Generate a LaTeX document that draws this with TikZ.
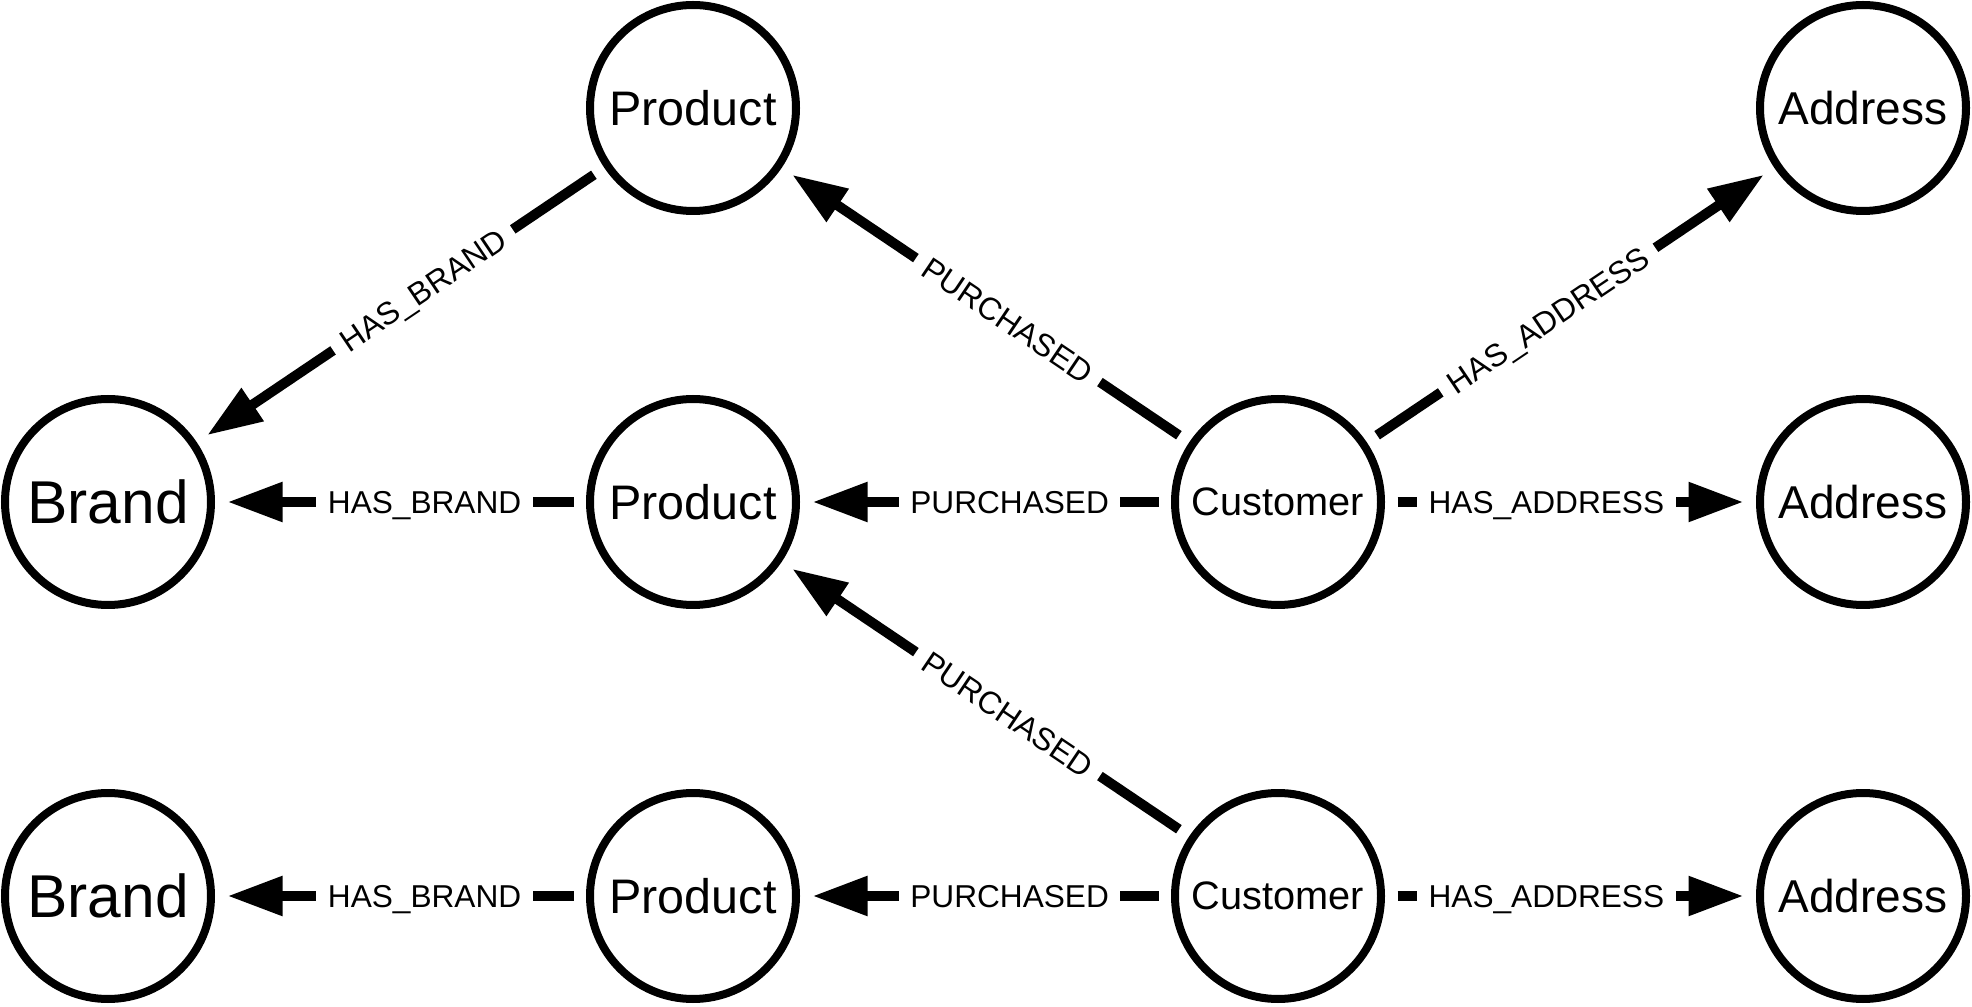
\documentclass[tikz,border=0pt]{standalone}
\usepackage{fontspec}
\setmainfont{Liberation Sans}
\usetikzlibrary{arrows.meta}
\begin{document}
\begin{tikzpicture}[x=0.1mm,y=-0.1mm,
  ent/.style={circle, draw=black, line width=0.8mm, minimum size=20.6mm, inner sep=0pt, fill=white},
  rel/.style={line width=1mm, -{Triangle[length=5.5mm,width=3.75mm]}, shorten >=1.25mm, shorten <=1.25mm},
  lbl/.style={fill=white, inner xsep=1.15mm, inner ysep=1mm, font=\fontsize{9}{10}\selectfont, text height=6.45pt, text depth=0pt},
  hpos/.style={pos=0.435},
  dpos/.style={pos=0.445},
  fbrand/.style={font=\fontsize{17.2}{20}\selectfont},
  fprod/.style={font=\fontsize{13.8}{16}\selectfont},
  fcust/.style={font=\fontsize{11.3}{14}\selectfont},
  faddr/.style={font=\fontsize{13.1}{16}\selectfont}
]
\useasboundingbox (0,0) rectangle (1972,1007);

% entities
\node[ent, fbrand] (b2) at (108,502) {Brand};
\node[ent, fbrand] (b3) at (108,896) {Brand};
\node[ent, fprod] (p1) at (693,108) {Product};
\node[ent, fprod] (p2) at (693,502) {Product};
\node[ent, fprod] (p3) at (693,896) {Product};
\node[ent, fcust] (c1) at (1278,502) {Customer};
\node[ent, fcust] (c2) at (1278,896) {Customer};
\node[ent, faddr] (a1) at (1863,108) {Address};
\node[ent, faddr] (a2) at (1863,502) {Address};
\node[ent, faddr] (a3) at (1863,896) {Address};

% relationships
\draw[rel] (p1) -- node[lbl, sloped, dpos] {HAS\_BRAND} (b2);
\draw[rel] (p2) -- node[lbl, hpos] {HAS\_BRAND} (b2);
\draw[rel] (p3) -- node[lbl, hpos] {HAS\_BRAND} (b3);
\draw[rel] (c1) -- node[lbl, sloped, dpos] {PURCHASED} (p1);
\draw[rel] (c1) -- node[lbl, hpos] {PURCHASED} (p2);
\draw[rel] (c2) -- node[lbl, sloped, dpos] {PURCHASED} (p2);
\draw[rel] (c2) -- node[lbl, hpos] {PURCHASED} (p3);
\draw[rel] (c1) -- node[lbl, sloped, dpos] {HAS\_ADDRESS} (a1);
\draw[rel] (c1) -- node[lbl, hpos] {HAS\_ADDRESS} (a2);
\draw[rel] (c2) -- node[lbl, hpos] {HAS\_ADDRESS} (a3);
\end{tikzpicture}
\end{document}
